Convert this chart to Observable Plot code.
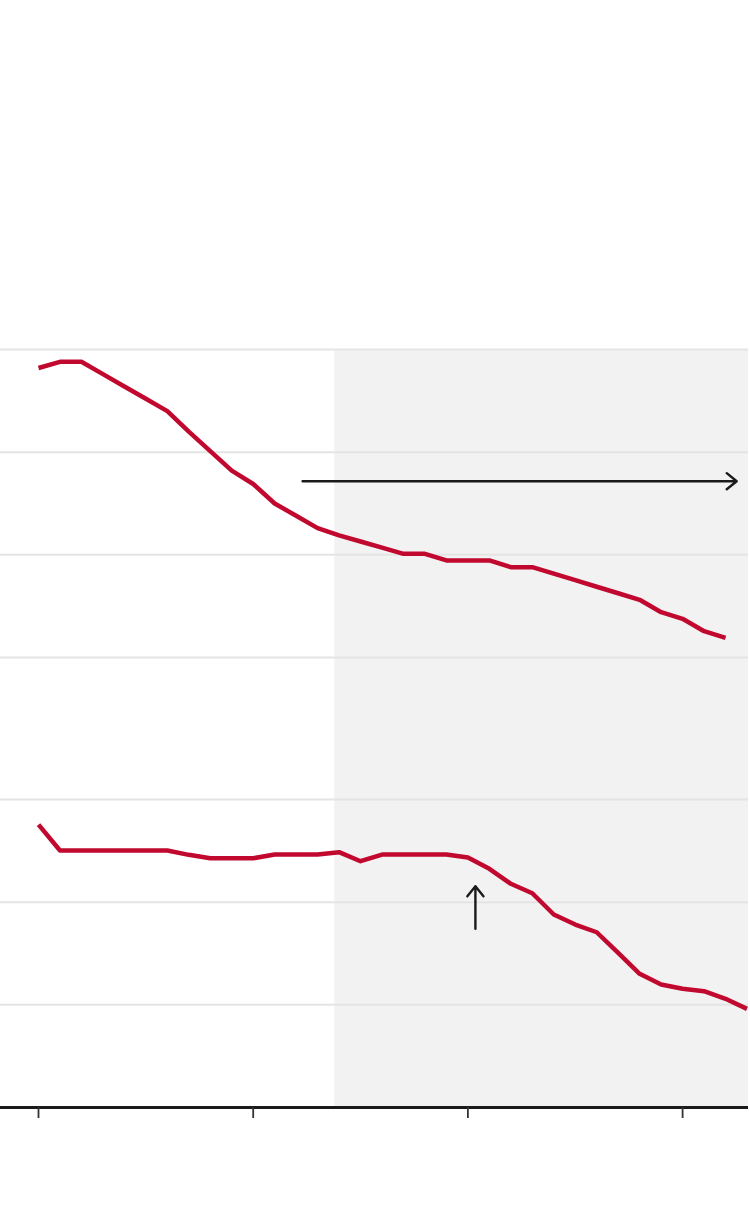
<!DOCTYPE html>
<html>
<head>
<meta charset="utf-8">
<script src="https://cdn.jsdelivr.net/npm/d3@7"></script>
<script src="https://cdn.jsdelivr.net/npm/@observablehq/plot@0.6"></script>
<style>
  html, body { margin: 0; padding: 0; background: #fff; }
  #chart svg { display: block; }
</style>
</head>
<body>
<div id="chart"></div>
<script>
// ---- data ----
const panels = ["top", "bottom"];

const topYears = [1990,1991,1992,1993,1994,1995,1996,1997,1998,1999,2000,2001,2002,2003,2004,2005,2006,2007,2008,2009,2010,2011,2012,2013,2014,2015,2016,2017,2018,2019,2020,2021,2022];
const topValues = [28.2,28.8,28.8,27.6,26.4,25.2,24.0,22.0,20.1,18.2,16.9,15.0,13.8,12.6,11.9,11.3,10.7,10.1,10.1,9.45,9.45,9.45,8.8,8.8,8.16,7.53,6.89,6.26,5.62,4.41,3.77,2.56,1.92];

const bottomYears = [1990,1991,1992,1993,1994,1995,1996,1997,1998,1999,2000,2001,2002,2003,2004,2005,2006,2007,2008,2009,2010,2011,2012,2013,2014,2015,2016,2017,2018,2019,2020,2021,2022,2023];
const bottomValues = [27.56,25.03,25.03,25.03,25.03,25.03,25.03,24.61,24.28,24.28,24.28,24.64,24.64,24.64,24.87,23.99,24.64,24.64,24.64,24.64,24.35,23.25,21.79,20.87,18.8,17.82,17.07,15.05,13.02,11.98,11.56,11.33,10.59,9.61];

const gridValues = [0, 10, 20, 30];
const xTicks = [1990, 2000, 2010, 2020];
const xDomain = [1988.23, 2023.07];
const yDomain = [0, 30];
const shadeStart = 2003.8;

// arrows
const arrowPanels = ["top", "bottom"];
const arrowX1 = [2002.3, 2010.35];
const arrowY1 = [17.17, 17.41];
const arrowX2 = [2022.52, 2010.35];
const arrowY2 = [17.17, 21.55];

// ---- tables built from the arrays ----
const lineData = [
  ...topYears.map((year, i) => ({panel: "top", year, value: topValues[i]})),
  ...bottomYears.map((year, i) => ({panel: "bottom", year, value: bottomValues[i]}))
];
const arrowData = arrowPanels.map((panel, i) => ({panel, x1: arrowX1[i], y1: arrowY1[i], x2: arrowX2[i], y2: arrowY2[i]}));
const shadeTop = [{panel: "top", start: shadeStart, end: xDomain[1]}];
const shadeBottom = [{panel: "bottom", start: shadeStart, end: xDomain[1]}];
const baseline = [{panel: "bottom", value: 0}];

const chart = Plot.plot({
  width: 750,
  height: 1220,
  marginTop: 349,
  marginBottom: 113,
  marginLeft: 0,
  marginRight: 2,
  x: {domain: xDomain, axis: null},
  y: {domain: yDomain, axis: null},
  fy: {domain: panels, axis: null, paddingInner: 0.3156, paddingOuter: 0, round: false},
  marks: [
    Plot.rect(shadeTop, {x1: "start", x2: "end", fy: "panel", fill: "#f2f2f2", insetBottom: -142}),
    Plot.rect(shadeBottom, {x1: "start", x2: "end", fy: "panel", fill: "#f2f2f2"}),
    Plot.ruleY(gridValues, {stroke: "#e4e4e4", strokeWidth: 2}),
    Plot.line(lineData, {x: "year", y: "value", fy: "panel", stroke: "#c1092f", strokeWidth: 4.5, strokeLinejoin: "round", strokeLinecap: "butt"}),
    Plot.arrow(arrowData, {x1: "x1", y1: "y1", x2: "x2", y2: "y2", fy: "panel", stroke: "#1a1a1a", strokeWidth: 2.4, headAngle: 78, headLength: 8}),
    Plot.ruleY(baseline, {y: "value", fy: "panel", stroke: "#1a1a1a", strokeWidth: 3}),
    Plot.axisX({ticks: xTicks, tickSize: 11, tickFormat: () => "", stroke: "#333", strokeWidth: 1.8, facetAnchor: "bottom"})
  ]
});
document.getElementById("chart").append(chart);
</script>
</body>
</html>
